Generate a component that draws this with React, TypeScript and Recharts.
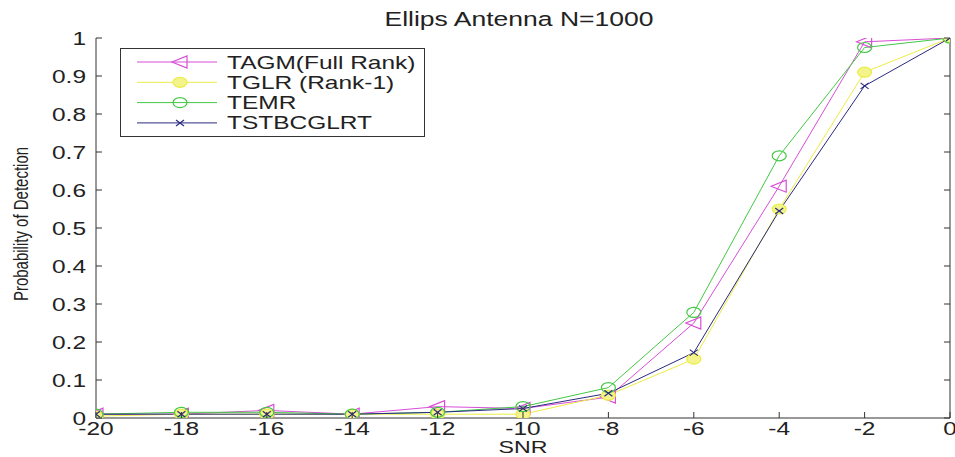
import { LineChart, Line, XAxis, YAxis, Legend } from 'recharts';

const snr = [-20, -18, -16, -14, -12, -10, -8, -6, -4, -2, 0];
const tagm = [0.01, 0.01, 0.02, 0.01, 0.03, 0.025, 0.055, 0.25, 0.61, 0.99, 1.0];
const tglr = [0.005, 0.01, 0.01, 0.01, 0.01, 0.01, 0.06, 0.155, 0.55, 0.91, 1.0];
const temr = [0.01, 0.015, 0.015, 0.01, 0.015, 0.03, 0.08, 0.278, 0.69, 0.975, 1.0];
const tstbc = [0.01, 0.01, 0.01, 0.01, 0.015, 0.025, 0.065, 0.172, 0.545, 0.874, 1.0];

const xTicks = [-20, -18, -16, -14, -12, -10, -8, -6, -4, -2, 0];
const yTicks = [0, 0.1, 0.2, 0.3, 0.4, 0.5, 0.6, 0.7, 0.8, 0.9, 1];

const seriesNames = ['TAGM(Full Rank)', 'TGLR (Rank-1)', 'TEMR', 'TSTBCGLRT'];
const colors = ['#d84ed8', '#ecec44', '#44c844', '#2a2a80'];

const data = snr.map((s, i) => ({
    snr: s,
    tagm: tagm[i],
    tglr: tglr[i],
    temr: temr[i],
    tstbc: tstbc[i],
}));

const FONT = "'Liberation Sans', Arial, sans-serif";
const AXIS = '#333';
// the reference image is stretched sideways, so text is too
const SX = 1.36;

const fmtY = (v: number) => (v === 0 || v === 1 ? String(v) : v.toFixed(1));

const SText = ({ x, y, anchor = 'start', size = 18, rotate = 0, children }: any) => (
    <text
        transform={`translate(${x},${y}) scale(${SX},1)${rotate ? ` rotate(${rotate})` : ''}`}
        x={0}
        y={0}
        textAnchor={anchor}
        fontSize={size}
        fontFamily={FONT}
        fill="#222"
    >
        {children}
    </text>
);

// marker shapes, MATLAB style (widened like the picture)
const Marker = ({ kind, cx, cy }: { kind: number; cx: number; cy: number }) => {
    if (kind === 0) {
        return (
            <polygon
                points={`${cx - 8},${cy} ${cx + 7},${cy - 6} ${cx + 7},${cy + 6}`}
                fill="none"
                stroke={colors[0]}
                strokeWidth={1.2}
            />
        );
    }
    if (kind === 1) {
        return <ellipse cx={cx} cy={cy} rx={7} ry={5} fill="#f4f48c" stroke={colors[1]} strokeWidth={1.2} />;
    }
    if (kind === 2) {
        return <ellipse cx={cx} cy={cy} rx={7} ry={5} fill="none" stroke={colors[2]} strokeWidth={1.2} />;
    }
    return (
        <g stroke={colors[3]} strokeWidth={1.2}>
            <line x1={cx - 4} y1={cy - 3} x2={cx + 4} y2={cy + 3} />
            <line x1={cx - 4} y1={cy + 3} x2={cx + 4} y2={cy - 3} />
        </g>
    );
};

const makeDot = (kind: number) => (props: any) => {
    const { cx, cy, index } = props;
    if (cx == null || cy == null) return <g key={index} />;
    return <Marker key={index} kind={kind} cx={cx} cy={cy} />;
};

const LeftTick = ({ x, y, payload }: any) => (
    <g>
        <line x1={x} x2={x + 6} y1={y} y2={y} stroke={AXIS} />
        <SText x={x - 10} y={y + 6.5} anchor="end">
            {fmtY(payload.value)}
        </SText>
    </g>
);

const RightTick = ({ x, y }: any) => <line x1={x} x2={x - 6} y1={y} y2={y} stroke={AXIS} />;

const BottomTick = ({ x, y, payload }: any) => (
    <g>
        <line x1={x} x2={x} y1={y} y2={y - 6} stroke={AXIS} />
        <SText x={x} y={y + 17} anchor="middle">
            {payload.value}
        </SText>
    </g>
);

const TopTick = ({ x, y }: any) => <line x1={x} x2={x} y1={y} y2={y + 6} stroke={AXIS} />;

const LegendBox = () => (
    <svg width={306} height={90} style={{ display: 'block', overflow: 'visible' }}>
        <rect x={0.5} y={0.5} width={304} height={88} fill="#fff" stroke={AXIS} />
        {seriesNames.map((name, i) => {
            const cy = 14 + i * 20.3;
            return (
                <g key={name}>
                    <line x1={17} x2={97} y1={cy} y2={cy} stroke={colors[i]} />
                    <Marker kind={i} cx={60} cy={cy} />
                    <SText x={107} y={cy + 6.5}>
                        {name}
                    </SText>
                </g>
            );
        })}
    </svg>
);

const keys = ['tagm', 'tglr', 'temr', 'tstbc'];

export default function App() {
    return (
        <div style={{ width: 955, height: 457, background: '#fff', position: 'relative' }}>
            <style>{'body{margin:0;background:#fff}'}</style>
            <LineChart
                width={955}
                height={457}
                data={data}
                margin={{ top: 38, right: 0, bottom: 0, left: 0 }}
            >
                <XAxis
                    dataKey="snr"
                    type="number"
                    domain={[-20, 0]}
                    ticks={xTicks}
                    height={39}
                    tickSize={0}
                    tickMargin={0}
                    tick={<BottomTick />}
                    axisLine={{ stroke: AXIS }}
                    allowDataOverflow
                />
                <XAxis
                    xAxisId="top"
                    orientation="top"
                    dataKey="snr"
                    type="number"
                    domain={[-20, 0]}
                    ticks={xTicks}
                    height={0}
                    tickSize={0}
                    tickMargin={0}
                    tick={<TopTick />}
                    axisLine={{ stroke: AXIS }}
                    allowDataOverflow
                />
                <YAxis
                    type="number"
                    domain={[0, 1]}
                    ticks={yTicks}
                    width={96}
                    tickSize={0}
                    tickMargin={0}
                    tick={<LeftTick />}
                    axisLine={{ stroke: AXIS }}
                    allowDataOverflow
                />
                <YAxis
                    yAxisId="right"
                    orientation="right"
                    type="number"
                    domain={[0, 1]}
                    ticks={yTicks}
                    width={5}
                    tickSize={0}
                    tickMargin={0}
                    tick={<RightTick />}
                    axisLine={{ stroke: AXIS }}
                    allowDataOverflow
                />
                <SText x={519} y={26} anchor="middle" size={19.5}>
                    Ellips Antenna N=1000
                </SText>
                <SText x={523} y={453} anchor="middle" size={17}>
                    SNR
                </SText>
                <SText x={28} y={224} anchor="middle" size={15} rotate={-90}>
                    Probability of Detection
                </SText>
                {keys.map((k, i) => (
                    <Line
                        key={k}
                        type="linear"
                        dataKey={k}
                        name={seriesNames[i]}
                        stroke={colors[i]}
                        strokeWidth={1}
                        dot={makeDot(i)}
                        activeDot={false}
                        isAnimationActive={false}
                    />
                ))}
                <Legend
                    layout="horizontal"
                    verticalAlign="middle"
                    align="center"
                    content={<LegendBox />}
                    wrapperStyle={{ position: 'absolute', top: 48, left: 120, width: 306, height: 90 }}
                />
            </LineChart>
        </div>
    );
}
